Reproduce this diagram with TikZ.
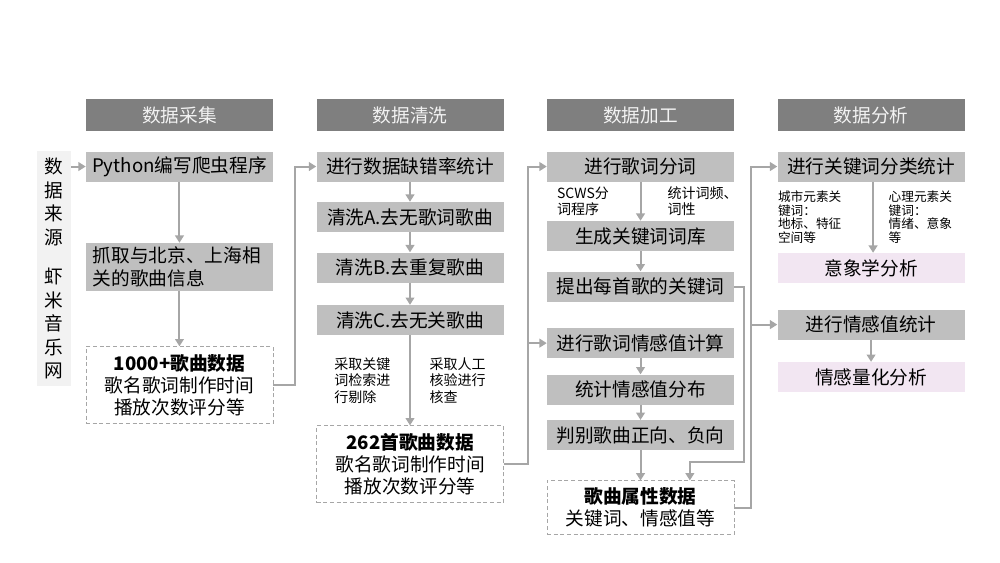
\documentclass[tikz,border=0pt]{standalone}
\usepackage{fontspec}
\setmainfont{Noto Sans CJK SC}
\usetikzlibrary{arrows.meta, positioning}
\definecolor{headgray}{HTML}{7F7F7F}
\definecolor{boxgray}{HTML}{BFBFBF}
\definecolor{srcgray}{HTML}{F2F2F2}
\definecolor{linegray}{HTML}{A6A6A6}
\definecolor{pinkbox}{HTML}{F2E6F2}

\begin{document}
\begin{tikzpicture}[
      node distance=15pt and 32.25pt,
      head/.style={rectangle, fill=headgray, text=srcgray,
                   minimum width=140.25pt, minimum height=24pt, inner sep=0pt,
                   font=\fontsize{14}{17}\selectfont},
      block/.style={rectangle, fill=boxgray,
                    minimum width=140.25pt, minimum height=22.5pt, inner sep=0pt,
                    align=center, font=\fontsize{14}{17}\selectfont},
      resblock/.style={block, fill=pinkbox},
      datablock/.style={rectangle, draw=linegray, dash pattern=on 3pt off 2pt,
                    minimum width=140.25pt, minimum height=57.75pt, inner sep=0pt,
                    align=center, font=\fontsize{14}{16.5}\selectfont},
      note/.style={inner sep=0pt, align=left, text=black, font=\fontsize{10.5}{12.5}\selectfont},
      smallnote/.style={note, font=\fontsize{9.5}{10.2}\selectfont},
      arrow/.style={-{Triangle[length=5.5pt,width=6.5pt]}, line width=1.5pt, linegray}
    ]
        \useasboundingbox (0,0) rectangle (750pt,-422.25pt);
        % column headers
        \node[head] (h1) at (134.6pt,-86.25pt) {数据采集};
        \node[head, right=of h1] (h2) {数据清洗};
        \node[head, right=of h2] (h3) {数据加工};
        \node[head, right=of h3] (h4) {数据分析};
        % source
        \node[rectangle, fill=srcgray, minimum width=25.5pt, minimum height=176.25pt,
              inner sep=0pt, align=center, font=\fontsize{14}{17.6}\selectfont]
              (src) at (40.5pt,-201.4pt) {数\\据\\来\\源\\[12pt]虾\\米\\音\\乐\\网};
        % collecting
        \node[block, below=of h1] (python) {Python编写爬虫程序};
        \node[block, below=45.75pt of python, minimum height=36pt, text width=130pt, align=left]
              (grab) {抓取与北京、上海相\\关的歌曲信息};
        \node[datablock, below=41.25pt of grab] (data1)
              {\textbf{1000+歌曲数据}\\歌名歌词制作时间\\播放次数评分等};
        % cleaning
        \node[block, below=of h2] (miss) {进行数据缺错率统计};
        \node[block, below=of miss] (cleanA) {清洗A.去无歌词歌曲};
        \node[block, below=of cleanA] (cleanB) {清洗B.去重复歌曲};
        \node[block, below=16.5pt of cleanB] (cleanC) {清洗C.去无关歌曲};
        \node[datablock, below=67.5pt of cleanC] (data2)
              {\textbf{262首歌曲数据}\\歌名歌词制作时间\\播放次数评分等};
        % processing
        \node[block, below=of h3] (seg) {进行歌词分词};
        \node[block, below=29.25pt of seg] (lex) {生成关键词词库};
        \node[block, below=of lex] (kw) {提出每首歌的关键词};
        \node[block, below=19.5pt of kw] (emo) {进行歌词情感值计算};
        \node[block, below=12pt of emo] (dist) {统计情感值分布};
        \node[block, below=11.25pt of dist] (judge) {判别歌曲正向、负向};
        \node[datablock, below=22.5pt of judge, minimum height=40.5pt] (attr)
              {\textbf{歌曲属性数据}\\关键词、情感值等};
        % analysis
        \node[block, below=of h4] (cls) {进行关键词分类统计};
        \node[resblock, below=53.25pt of cls] (img) {意象学分析};
        \node[block, below=19.5pt of img] (senti) {进行情感值统计};
        \node[resblock, below=16.5pt of senti] (quant) {情感量化分析};
        % connectors
        \draw[arrow] (src.east |- python.west) -- (python.west);
        \draw[arrow] (python) -- (grab);
        \draw[arrow] (grab) -- (data1);
        \draw[arrow] (data1.east) -- ++(16.5pt,0) |- (miss.west);
        \draw[arrow] (miss) -- (cleanA);
        \draw[arrow] (cleanA) -- (cleanB);
        \draw[arrow] (cleanB) -- (cleanC);
        \draw[arrow] (cleanC) -- (data2)
              node[note, midway, left=14pt] {采取关键\\词检索进\\行剔除}
              node[note, midway, right=14pt] {采取人工\\核验进行\\核查};
        \draw[arrow] (data2.east) -- ++(18pt,0) coordinate (j2) |- (seg.west);
        \draw[arrow] (j2) |- (emo.west);
        \draw[arrow] (seg) -- (lex)
              node[note, midway, left=23pt] {SCWS分\\词程序}
              node[note, midway, right=19.5pt] {统计词频、\\词性};
        \draw[arrow] (lex) -- (kw);
        \draw[arrow] (emo) -- (dist);
        \draw[arrow] (dist) -- (judge);
        \draw[arrow] (judge) -- (attr);
        \draw[arrow] (kw.east) -- ++(7pt,0) |- ([xshift=37pt,yshift=13.5pt]attr.north)
              -- ([xshift=37pt]attr.north);
        \draw[arrow] (attr.east) -- ++(12.75pt,0) coordinate (j3) |- (cls.west);
        \draw[arrow] (j3) |- (senti.west);
        \draw[arrow] ([xshift=1.5pt]cls.south) -- ([xshift=1.5pt]img.north)
              node[smallnote, midway, left=23pt] {城市元素关\\键词：\\地标、特征\\空间等}
              node[smallnote, midway, right=11pt] {心理元素关\\键词：\\情绪、意象\\等};
        \draw[arrow] (senti) -- (quant);
    \end{tikzpicture}
\end{document}
